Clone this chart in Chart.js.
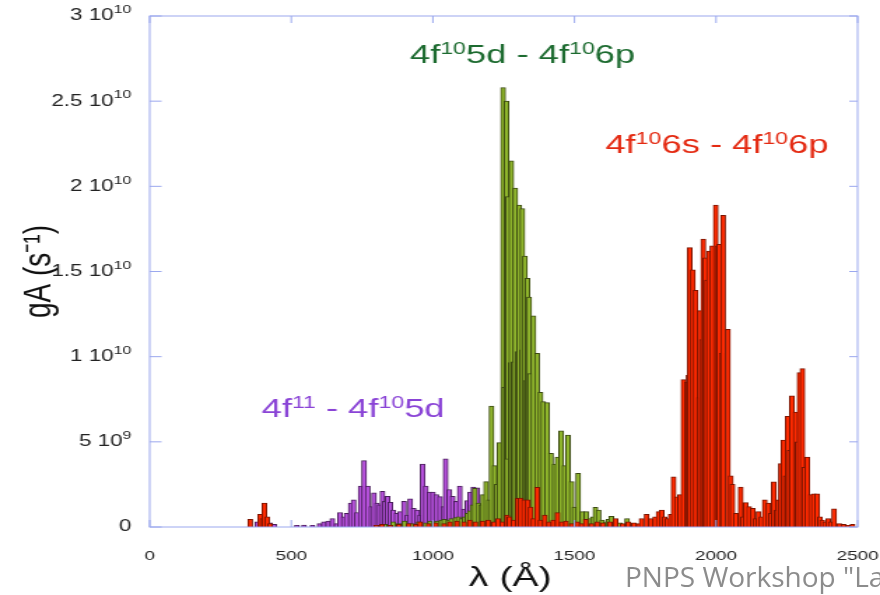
<!DOCTYPE html>
<html>
<head>
<meta charset="utf-8">
<script src="https://cdn.jsdelivr.net/npm/chart.js@4.4.0/dist/chart.umd.min.js"></script>
<style>
  html, body { margin:0; padding:0; background:#fff; overflow:hidden; }
  #wrap { position:relative; width:880px; height:595px; }
  #myChart { position:absolute; left:0; top:0; }
  #footer { position:absolute; left:625px; top:557px; font-family:"Open Sans"; font-size:28px; color:#8c8c8c; white-space:nowrap; }
</style>
</head>
<body>
<div id="wrap">
  <!-- the source picture is a slide image stretched sideways, so the canvas is drawn narrow and stretched -->
  <canvas id="myChart" width="629" height="595" style="width:880px;height:595px"></canvas>
  <div id="footer">PNPS Workshop "La</div>
</div>
<script>
// wavelength (Å) and gA (s-1) of each line
let purpleLam=[380,392,410,425,440,520,545,575,600,615,630,645,660,672,685,695,710,720,732,745,757,770,783,792,803,812,822,830,840,850,860,872,885,898,910,920,932,945,955,964,975,988,1000,1012,1025,1037,1045,1058,1070,1082,1095,1110,1122,1132,1143,1157,1170,1185,1200];
let purpleGA=[0.3e9,0.5e9,0.4e9,0.25e9,0.15e9,0.1e9,0.12e9,0.1e9,0.2e9,0.3e9,0.35e9,0.5e9,0.2e9,0.85e9,0.6e9,0.8e9,1.4e9,1.6e9,0.85e9,2.4e9,3.9e9,2.4e9,1.2e9,2.0e9,1.4e9,1.3e9,2.1e9,1.5e9,1.8e9,1.45e9,1.0e9,0.8e9,0.9e9,1.5e9,0.7e9,1.65e9,1.1e9,1.0e9,0.7e9,3.7e9,2.4e9,2.05e9,2.05e9,1.9e9,1.78e9,1.2e9,4.0e9,2.2e9,1.8e9,1.5e9,2.4e9,1.05e9,1.55e9,2.05e9,2.35e9,2.3e9,0.6e9,0.3e9,0.2e9];

let greenLam=[800,830,860,880,900,925,950,975,990,1005,1015,1030,1040,1055,1065,1080,1090,1100,1112,1122,1130,1140,1148,1160,1170,1177,1188,1198,1207,1218,1226,1235,1248,1252,1260,1265,1262,1275,1277,1285,1291,1300,1305,1315,1316,1325,1328,1334,1340,1343,1355,1368,1380,1390,1403,1417,1430,1440,1453,1465,1477,1490,1500,1513,1528,1542,1555,1565,1574,1585,1598,1610,1620,1630,1645,1660,1686,1700,1720];
let greenGA=[0.1e9,0.15e9,0.3e9,0.2e9,0.35e9,0.2e9,0.3e9,0.25e9,0.35e9,0.3e9,0.35e9,0.4e9,0.45e9,0.4e9,0.5e9,0.55e9,0.6e9,0.5e9,0.6e9,0.8e9,0.95e9,1.3e9,2.27e9,1.4e9,1.3e9,1.9e9,2.66e9,1.6e9,7.1e9,3.6e9,2.5e9,4.95e9,25.8e9,8.2e9,25.0e9,19.4e9,4.0e9,9.65e9,21.5e9,9.7e9,19.9e9,10.3e9,18.9e9,10.4e9,18.7e9,15.9e9,8.6e9,14.6e9,13.5e9,9.0e9,12.4e9,10.2e9,7.9e9,7.36e9,7.3e9,4.33e9,3.7e9,4.1e9,5.65e9,3.6e9,5.4e9,2.66e9,1.17e9,3.15e9,0.9e9,0.9e9,0.5e9,0.6e9,1.16e9,1.0e9,0.4e9,0.3e9,0.45e9,0.63e9,0.3e9,0.25e9,0.5e9,0.2e9,0.1e9];

let redLam=[355,390,398,405,415,425,800,820,850,880,915,940,955,985,1010,1040,1060,1085,1110,1130,1150,1175,1195,1215,1230,1245,1262,1270,1285,1300,1310,1322,1335,1345,1355,1368,1380,1395,1410,1425,1440,1455,1470,1490,1510,1525,1540,1560,1580,1600,1625,1645,1670,1690,1710,1727,1737,1755,1770,1785,1797,1808,1818,1828,1840,1850,1862,1873,1885,1897,1903,1907,1918,1928,1940,1943,1950,1955,1962,1968,1975,1987,1999,2005,2011,2020,2025,2042,2052,2058,2070,2087,2095,2105,2117,2130,2140,2150,2160,2172,2185,2194,2204,2214,2220,2229,2238,2246,2253,2260,2268,2281,2288,2295,2305,2312,2322,2335,2345,2357,2367,2375,2385,2396,2405,2417,2435,2450,2465,2482];
let redGA=[0.45e9,0.75e9,0.5e9,1.4e9,0.6e9,0.2e9,0.1e9,0.15e9,0.1e9,0.15e9,0.2e9,0.15e9,0.3e9,0.2e9,0.25e9,0.2e9,0.3e9,0.35e9,0.3e9,0.4e9,0.3e9,0.35e9,0.4e9,0.3e9,0.5e9,0.3e9,0.7e9,0.6e9,0.4e9,1.68e9,1.7e9,1.6e9,1.6e9,1.17e9,0.5e9,2.33e9,0.4e9,0.7e9,0.3e9,0.4e9,0.84e9,0.3e9,0.35e9,0.2e9,0.3e9,0.2e9,0.45e9,0.2e9,0.3e9,0.25e9,0.3e9,0.5e9,0.2e9,0.3e9,0.25e9,0.2e9,0.5e9,0.75e9,0.5e9,0.6e9,0.9e9,1.0e9,0.6e9,0.5e9,0.75e9,2.95e9,1.77e9,1.9e9,8.65e9,8.5e9,8.9e9,16.4e9,15.1e9,13.9e9,7.6e9,12.7e9,11.0e9,16.9e9,15.8e9,14.5e9,16.2e9,16.5e9,18.9e9,16.5e9,16.6e9,10.2e9,18.3e9,11.6e9,3.0e9,2.5e9,0.8e9,2.35e9,0.6e9,1.43e9,1.2e9,1.1e9,0.5e9,0.9e9,0.6e9,1.6e9,1.4e9,0.8e9,2.65e9,1.0e9,1.6e9,3.72e9,5.1e9,3.0e9,6.5e9,4.5e9,7.7e9,6.75e9,5.0e9,9.06e9,9.3e9,3.5e9,4.1e9,1.9e9,1.95e9,1.95e9,0.6e9,0.4e9,0.3e9,0.5e9,0.3e9,1.07e9,0.2e9,0.15e9,0.1e9,0.15e9];

// y tick labels as mantissa + power of ten (superscript)
let yTickBase=["0","5 10","1 10","1.5 10","2 10","2.5 10","3 10"];
let yTickExp=["","9","10","10","10","10","10"];

const xTitle="\u03bb (\u00c5)";
const xTitleLam=1273;

// band labels: [text, superscript?] parts, anchored at (wavelength, gA)
let greenText=[["4f",0],["10",1],["5d - 4f",0],["10",1],["6p",0]];
let redText=[["4f",0],["10",1],["6s - 4f",0],["10",1],["6p",0]];
let purpleText=[["4f",0],["11",1],[" - 4f",0],["10",1],["5d",0]];
let bandLabels=[
  {parts:greenText, lam:919, val:2.725e10, color:"#1d6b30"},
  {parts:redText, lam:1609, val:2.196e10, color:"#e42a12"},
  {parts:purpleText, lam:395, val:0.646e10, color:"#8a44d6"}
];

function toPoints(lams, vals){
  let pts=[];
  for(let i=0;i<lams.length;i++){
    pts.push({x:lams[i], y:vals[i]});
  }
  return pts;
}

const frameColor="#9ba8ee";
const font='"Liberation Sans"';

const framePlugin={
  id:"frame",
  afterDatasetsDraw(chart){
    const ctx=chart.ctx;
    const a=chart.chartArea;
    const x=chart.scales.x, y=chart.scales.y;
    ctx.save();
    ctx.strokeStyle=frameColor;
    ctx.lineWidth=1;
    ctx.strokeRect(a.left, a.top, a.right-a.left, a.bottom-a.top);
    ctx.beginPath();
    x.ticks.forEach(t=>{
      const px=x.getPixelForValue(t.value);
      ctx.moveTo(px,a.bottom); ctx.lineTo(px,a.bottom-7);
      ctx.moveTo(px,a.top); ctx.lineTo(px,a.top+7);
    });
    y.ticks.forEach(t=>{
      const py=y.getPixelForValue(t.value);
      ctx.moveTo(a.left,py); ctx.lineTo(a.left+8.5,py);
      ctx.moveTo(a.right,py); ctx.lineTo(a.right-6,py);
    });
    ctx.stroke();

    // y tick labels with superscript powers
    ctx.fillStyle="#222";
    ctx.textAlign="left";
    ctx.textBaseline="middle";
    y.ticks.forEach((t,i)=>{
      const py=y.getPixelForValue(t.value);
      ctx.font="16px "+font;
      const wb=ctx.measureText(yTickBase[i]).width;
      ctx.font="11.5px "+font;
      const we=ctx.measureText(yTickExp[i]).width;
      const x0=a.left-13-wb-we;
      ctx.font="16px "+font;
      ctx.fillText(yTickBase[i],x0,py);
      ctx.font="11.5px "+font;
      ctx.fillText(yTickExp[i],x0+wb,py-6);
    });

    // x axis title
    ctx.fillStyle="#111";
    ctx.textAlign="center";
    ctx.font="28px "+font;
    ctx.fillText(xTitle,x.getPixelForValue(xTitleLam),578);

    // band labels with superscripts
    ctx.textBaseline="alphabetic";
    ctx.textAlign="left";
    bandLabels.forEach(b=>{
      let px=x.getPixelForValue(b.lam);
      const py=y.getPixelForValue(b.val);
      ctx.fillStyle=b.color;
      b.parts.forEach(p=>{
        if(p[1]){
          ctx.font="16.5px "+font;
          ctx.fillText(p[0],px,py-9);
        } else {
          ctx.font="26px "+font;
          ctx.fillText(p[0],px,py);
        }
        px+=ctx.measureText(p[0]).width;
      });
    });
    ctx.restore();
  }
};

const ctx=document.getElementById("myChart");

let myChart=new Chart(ctx,{
  type:"bar",
  data:{
    datasets:[
      {label:"4f10 6s - 4f10 6p", data:toPoints(redLam,redGA), backgroundColor:"#ff2a00", borderColor:"#7a1400", borderWidth:1, order:1},
      {label:"4f10 5d - 4f10 6p", data:toPoints(greenLam,greenGA), backgroundColor:"#8fb52c", borderColor:"#3b4a12", borderWidth:1, order:2},
      {label:"4f11 - 4f10 5d", data:toPoints(purpleLam,purpleGA), backgroundColor:"#b650dc", borderColor:"#4a1f5c", borderWidth:1, order:3}
    ]
  },
  options:{
    responsive:false,
    animation:false,
    devicePixelRatio:1,
    layout:{padding:{left:0,right:16,top:16,bottom:0}},
    datasets:{bar:{barThickness:3.5, grouped:false}},
    plugins:{legend:{display:false}, tooltip:{enabled:false}},
    scales:{
      x:{
        type:"linear", min:0, max:2500, offset:false,
        grid:{display:false}, border:{display:false},
        ticks:{stepSize:500, padding:13, color:"#222", font:{family:"Liberation Sans", size:13.5}, callback:v=>String(v)},
        afterFit:s=>{ s.height=68; s.paddingLeft=0; s.paddingRight=0; }
      },
      y:{
        min:0, max:3e10,
        grid:{display:false}, border:{display:false},
        ticks:{stepSize:5e9, display:false},
        title:{display:true, text:"gA (s\u207b\u00b9)", color:"#111", font:{family:"Liberation Sans", size:28}, padding:{top:11,bottom:0}},
        afterFit:s=>{ s.width=107; s.paddingTop=0; s.paddingBottom=0; }
      }
    }
  },
  plugins:[framePlugin]
});
</script>
</body>
</html>
